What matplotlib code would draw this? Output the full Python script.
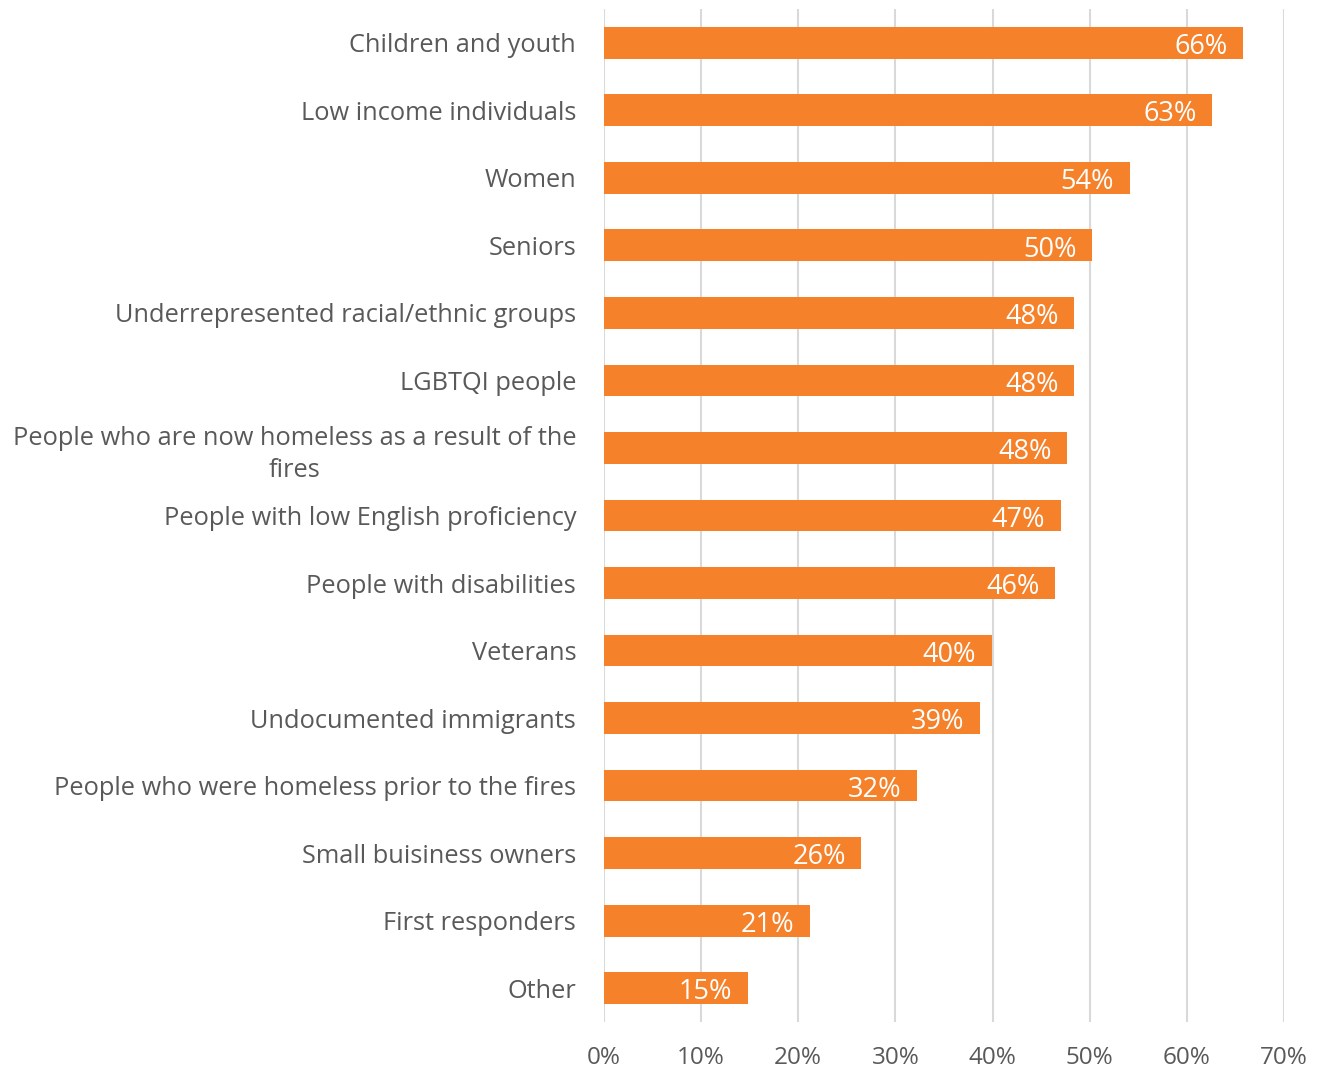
import matplotlib
matplotlib.use("Agg")
import matplotlib.pyplot as plt
import matplotlib.transforms as mtransforms
from matplotlib.ticker import MultipleLocator, FuncFormatter

# Share of respondents naming each group
groups = [
    "Children and youth",
    "Low income individuals",
    "Women",
    "Seniors",
    "Underrepresented racial/ethnic groups",
    "LGBTQI people",
    "People who are now homeless as a result of the\nfires",
    "People with low English proficiency",
    "People with disabilities",
    "Veterans",
    "Undocumented immigrants",
    "People who were homeless prior to the fires",
    "Small buisiness owners",
    "First responders",
    "Other",
]
shares = [0.658, 0.626, 0.541, 0.502, 0.484, 0.484, 0.477, 0.470,
          0.464, 0.399, 0.387, 0.322, 0.265, 0.212, 0.148]

BAR_COLOR = "#F5822A"
TEXT_COLOR = "#595959"
GRID_COLOR = "#D9D9D9"

plt.rcParams["font.family"] = ["Open Sans", "DejaVu Sans"]

fig = plt.figure(figsize=(13.23, 10.68), dpi=100)
ax = fig.add_axes([0.4565, 0.0431, 0.514, 0.9485])

pos = range(len(groups))
bars = ax.barh(pos, shares, height=0.47, color=BAR_COLOR, zorder=2)

for rect, v in zip(bars, shares):
    ax.annotate(f"{round(v * 100):.0f}%",
                xy=(rect.get_width(), rect.get_y() + rect.get_height() / 2),
                xytext=(-11, -3), textcoords="offset points",
                ha="right", va="center", color="white", fontsize=19.5)

ax.set_xlim(0, 0.7)
ax.set_ylim(len(groups) - 0.5, -0.5)
ax.set_yticks(list(pos))
ax.set_yticklabels(groups, fontsize=18.3, color=TEXT_COLOR)

# nudge category names up a touch; wrapped lines are centred
lift = mtransforms.ScaledTranslation(0, 2 / 100, fig.dpi_scale_trans)
for lab in ax.get_yticklabels():
    lab.set_multialignment("center")
    lab.set_linespacing(1.35)
    lab.set_transform(lab.get_transform() + lift)

ax.xaxis.set_major_locator(MultipleLocator(0.1))
ax.xaxis.set_major_formatter(FuncFormatter(lambda x, _: f"{x * 100:.0f}%"))
ax.tick_params(axis="x", labelsize=17.5, labelcolor=TEXT_COLOR, length=0, pad=17)
ax.tick_params(axis="y", length=0, pad=20)

ax.grid(axis="x", color=GRID_COLOR, linewidth=1.5, zorder=0)
for s in ax.spines.values():
    s.set_visible(False)

fig.savefig("out.png", dpi=100, facecolor="white")
